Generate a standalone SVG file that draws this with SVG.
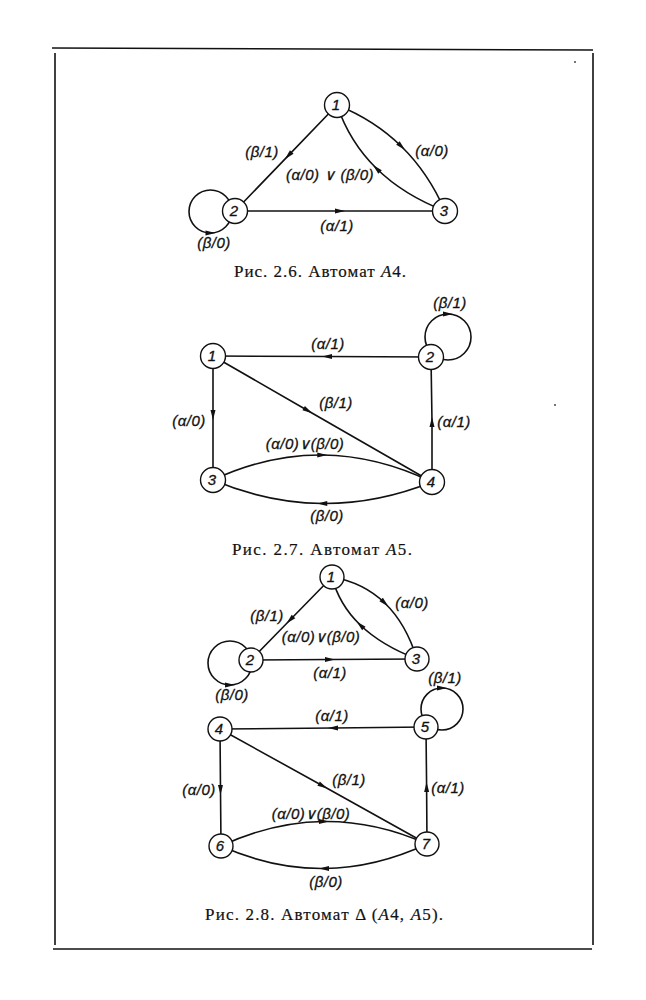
<svg xmlns="http://www.w3.org/2000/svg" width="646" height="1000" viewBox="0 0 646 1000">
<style>
.e{fill:none;stroke:#111;stroke-width:1.6;marker-mid:url(#arr)}
.n circle{fill:#fff;stroke:#111;stroke-width:1.4}
.n text{font-family:"Liberation Sans",Arial,sans-serif;font-style:italic;font-size:15px;fill:#111;text-anchor:middle;stroke:#111;stroke-width:0.3}
.l{font-family:"Liberation Sans",Arial,sans-serif;font-style:italic;font-size:15px;fill:#111;text-anchor:middle;letter-spacing:0.5px;stroke:#111;stroke-width:0.3}
.cap{font-family:"Liberation Serif","Times New Roman",serif;font-size:17px;fill:#111;text-anchor:middle;stroke:#111;stroke-width:0.2}
.b{stroke:#111;stroke-width:1.6;fill:none}
</style>
<defs>
<marker id="arr" viewBox="-6 -3 12 6" refX="0" refY="0" markerWidth="12" markerHeight="6" markerUnits="userSpaceOnUse" orient="auto">
<path d="M5,0 L-5,-2.5 L-5,2.5 Z" fill="#111"/>
</marker>
</defs>
<rect width="646" height="1000" fill="#fff"/>
<g id="frame">
<path class="b" d="M52,48 L593,50"/>
<path class="b" d="M55,53 L55,945"/>
<path class="b" d="M593,53 L593,945"/>
<path class="b" d="M53,949 L592,949"/>
<circle cx="575" cy="62" r="0.9" fill="#333"/>
<circle cx="555" cy="405" r="0.9" fill="#333"/>
</g>
<g id="connectors">
<!-- Fig 2.6 -->
<path class="e" d="M337,105 L288.3,155.6 L235,211"/>
<path class="e" d="M235,211 L340,211 L445,211"/>
<path class="e" d="M337,105 Q374.5,120 401.5,146.5 Q428.5,173 445,211"/>
<path class="e" d="M445,211 Q403.5,195 376.5,168.5 Q349.5,142 337,105"/>
<path class="e" d="M210.5,190 A21.5,21.5 0 0 0 210.5,233 A21.5,21.5 0 0 0 210.5,190"/>
<!-- Fig 2.7 -->
<path class="e" d="M431,357 L327,356.5 L213,356"/>
<path class="e" d="M213,356 L308,410.7 L432,482"/>
<path class="e" d="M213,356 L213,415 L213,480"/>
<path class="e" d="M432,482 L432,422 L431,357"/>
<path class="e" d="M213,480 Q267.5,454.5 322.25,455 Q377,455.5 432,482"/>
<path class="e" d="M432,482 Q377,504 322.25,503.5 Q267.5,503 213,480"/>
<path class="e" d="M448,360 A23,23 0 0 1 448,314 A23,23 0 0 1 448,360"/>
<!-- Fig 2.8 top -->
<path class="e" d="M332,577 L290,620 L251,660"/>
<path class="e" d="M251,660 L330,659.5 L417,659"/>
<path class="e" d="M332,577 Q363.5,582.5 384.75,603 Q406,623.5 417,659"/>
<path class="e" d="M417,659 Q381.5,645.5 360.25,625 Q339,604.5 332,577"/>
<path class="e" d="M230,641 A22,22 0 0 0 230,685 A22,22 0 0 0 230,641"/>
<!-- Fig 2.8 bottom -->
<path class="e" d="M426,727 L333,728 L220,729"/>
<path class="e" d="M220,729 L323,786 L427,844"/>
<path class="e" d="M220,729 L220.5,790 L221,846"/>
<path class="e" d="M427,844 L426.6,787 L426,727"/>
<path class="e" d="M221,846 Q272.5,822 324,821.5 Q375.5,821 427,844"/>
<path class="e" d="M427,844 Q375.5,868 324,868.5 Q272.5,869 221,846"/>
<path class="e" d="M442,730 A21,21 0 0 1 442,688 A21,21 0 0 1 442,730"/>
</g>
<g id="fig26">
<g id="f26n1" class="n"><circle cx="337" cy="105" r="12.5"/><text x="336" y="110">1</text></g>
<g id="f26n2" class="n"><circle cx="235" cy="211" r="12.5"/><text x="234" y="216">2</text></g>
<g id="f26n3" class="n"><circle cx="445" cy="211" r="12.5"/><text x="444" y="216">3</text></g>
</g>
<g id="fig27">
<g id="f27n1" class="n"><circle cx="213" cy="356" r="12.5"/><text x="212" y="361">1</text></g>
<g id="f27n2" class="n"><circle cx="431" cy="357" r="12.5"/><text x="430" y="362">2</text></g>
<g id="f27n3" class="n"><circle cx="213" cy="480" r="12.5"/><text x="212" y="485">3</text></g>
<g id="f27n4" class="n"><circle cx="432" cy="482" r="12.5"/><text x="431" y="487">4</text></g>
</g>
<g id="fig28">
<g id="f28n1" class="n"><circle cx="332" cy="577" r="12"/><text x="331" y="582">1</text></g>
<g id="f28n2" class="n"><circle cx="251" cy="660" r="12"/><text x="250" y="665">2</text></g>
<g id="f28n3" class="n"><circle cx="417" cy="659" r="12"/><text x="416" y="664">3</text></g>
<g id="f28n4" class="n"><circle cx="220" cy="729" r="12"/><text x="219" y="734">4</text></g>
<g id="f28n5" class="n"><circle cx="426" cy="727" r="12"/><text x="425" y="732">5</text></g>
<g id="f28n6" class="n"><circle cx="221" cy="846" r="12"/><text x="220" y="851">6</text></g>
<g id="f28n7" class="n"><circle cx="427" cy="844" r="12"/><text x="426" y="849">7</text></g>
</g>
<g id="labels">
<text class="l" x="262" y="157">(β/1)</text>
<text class="l" x="330" y="180">(α/0) ∨ (β/0)</text>
<text class="l" x="432" y="156">(α/0)</text>
<text class="l" x="337" y="231">(α/1)</text>
<text class="l" x="214" y="248">(β/0)</text>

<text class="l" x="450" y="308">(β/1)</text>
<text class="l" x="328" y="349">(α/1)</text>
<text class="l" x="336" y="408">(β/1)</text>
<text class="l" x="189" y="426">(α/0)</text>
<text class="l" x="454" y="427">(α/1)</text>
<text class="l" x="305" y="449">(α/0)∨(β/0)</text>
<text class="l" x="327" y="521">(β/0)</text>

<text class="l" x="267" y="621">(β/1)</text>
<text class="l" x="412" y="608">(α/0)</text>
<text class="l" x="321" y="642">(α/0)∨(β/0)</text>
<text class="l" x="330" y="678">(α/1)</text>
<text class="l" x="232" y="700">(β/0)</text>
<text class="l" x="445" y="683">(β/1)</text>

<text class="l" x="332" y="721">(α/1)</text>
<text class="l" x="349" y="785">(β/1)</text>
<text class="l" x="199" y="795">(α/0)</text>
<text class="l" x="448" y="793">(α/1)</text>
<text class="l" x="311" y="819">(α/0)∨(β/0)</text>
<text class="l" x="326" y="887">(β/0)</text>
</g>
<g id="captions">
<text class="cap" x="320" y="277" textLength="172" lengthAdjust="spacing">Рис. 2.6.  Автомат  <tspan font-style="italic">A</tspan>4.</text>
<text class="cap" x="322" y="555" textLength="180" lengthAdjust="spacing">Рис. 2.7.  Автомат  <tspan font-style="italic">A</tspan>5.</text>
<text class="cap" x="324" y="920" textLength="238" lengthAdjust="spacing">Рис. 2.8. Автомат Δ (<tspan font-style="italic">A</tspan>4,  <tspan font-style="italic">A</tspan>5).</text>
</g>
</svg>
